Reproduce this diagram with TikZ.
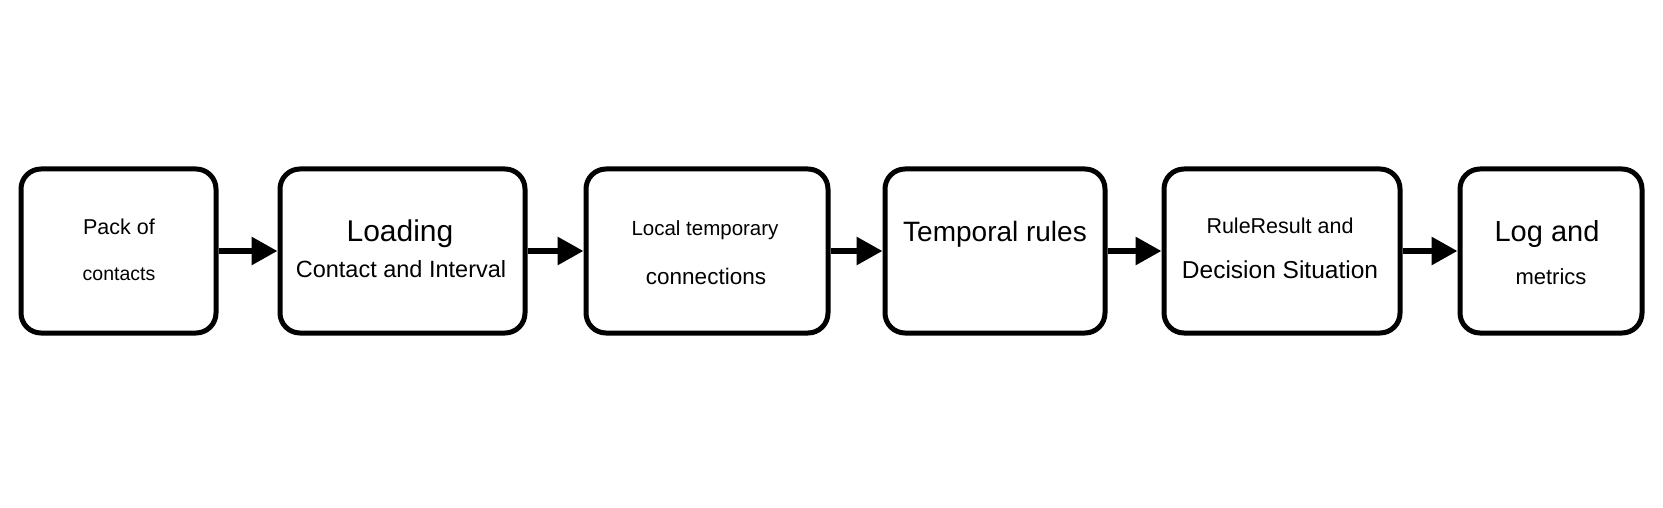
\documentclass[tikz,border=0pt]{standalone}
\usepackage{fontspec}
\setmainfont{Liberation Sans}
\usetikzlibrary{arrows.meta}
\begin{document}
\begin{tikzpicture}[x=1pt,y=-1pt,
  stagebox/.style={draw=black,line width=5pt,rounded corners=20pt,fill=white,minimum height=164pt,inner sep=0pt},
  txt/.style={inner sep=0pt,text height=0.72em,text depth=0pt,anchor=center},
  flow/.style={line width=6pt,-{Triangle[length=26pt,width=27pt]}}]
\useasboundingbox[fill=white] (0,0) rectangle (1663,508);
\node[stagebox,minimum width=195pt] (b1) at (118.5,251) {};
\node[stagebox,minimum width=245pt] (b2) at (402.5,251) {};
\node[stagebox,minimum width=242pt] (b3) at (707,251) {};
\node[stagebox,minimum width=220pt] (b4) at (995,251) {};
\node[stagebox,minimum width=236pt] (b5) at (1282,251) {};
\node[stagebox,minimum width=182pt] (b6) at (1551,251) {};
\node[txt,font=\fontsize{21.5}{24}\selectfont] (t1a) at (119,231) {Pack of};
\node[txt,font=\fontsize{19.5}{22}\selectfont] (t1b) at (119,277) {contacts};
\node[txt,font=\fontsize{30}{34}\selectfont] (t2a) at (400,238) {Loading};
\node[txt,font=\fontsize{23.5}{26}\selectfont] (t2b) at (401,274) {Contact and Interval};
\node[txt,font=\fontsize{20.5}{23}\selectfont] (t3a) at (705,232) {Local temporary};
\node[txt,font=\fontsize{22.5}{25}\selectfont] (t3b) at (706,281) {connections};
\node[txt,font=\fontsize{28}{32}\selectfont] (t4a) at (995,237.5) {Temporal rules};
\node[txt,font=\fontsize{21.5}{24}\selectfont] (t5a) at (1280,230) {RuleResult and};
\node[txt,font=\fontsize{24.5}{27}\selectfont] (t5b) at (1280,275) {Decision Situation};
\node[txt,font=\fontsize{29}{33}\selectfont] (t6a) at (1547,238) {Log and};
\node[txt,font=\fontsize{22}{25}\selectfont] (t6b) at (1551,281) {metrics};
\draw[flow] (b1.east) -- (b2.west);
\draw[flow] (b2.east) -- (b3.west);
\draw[flow] (b3.east) -- (b4.west);
\draw[flow] (b4.east) -- (b5.west);
\draw[flow] (b5.east) -- (b6.west);
\end{tikzpicture}
\end{document}
